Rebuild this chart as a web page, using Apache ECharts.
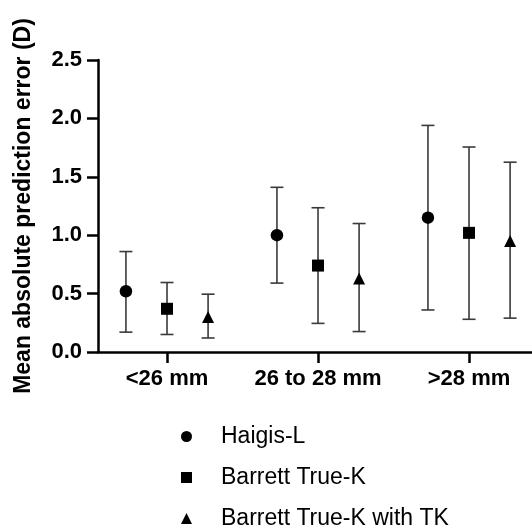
<!DOCTYPE html>
<html>
<head>
<meta charset="utf-8">
<script src="https://cdn.jsdelivr.net/npm/echarts@6/dist/echarts.min.js"></script>
<style>html,body{margin:0;padding:0;background:#fff}#c{width:532px;height:527px}</style>
</head>
<body>
<div id="c"></div>
<script>
const categories = ['<26 mm', '26 to 28 mm', '>28 mm'];
const seriesNames = ['Haigis-L', 'Barrett True-K', 'Barrett True-K with TK'];
const haigisMean = [0.52, 1.00, 1.15];
const haigisLow = [0.17, 0.59, 0.36];
const haigisHigh = [0.86, 1.41, 1.94];
const barrettMean = [0.37, 0.74, 1.02];
const barrettLow = [0.15, 0.245, 0.28];
const barrettHigh = [0.595, 1.235, 1.755];
const tkMean = [0.30, 0.63, 0.95];
const tkLow = [0.12, 0.175, 0.29];
const tkHigh = [0.495, 1.10, 1.625];
const yTicks = [0, 0.5, 1.0, 1.5, 2.0, 2.5];

const FONT = '"Liberation Sans", Arial, sans-serif';
const offsets = [-0.272, 0, 0.272];
const symbols = ['circle', 'rect', 'triangle'];
const symbolSizes = [12.5, 12, 12];
const means = [haigisMean, barrettMean, tkMean];
const lows = [haigisLow, barrettLow, tkLow];
const highs = [haigisHigh, barrettHigh, tkHigh];

const series = [];
means.forEach((m, s) => {
  series.push({
    type: 'custom',
    name: seriesNames[s] + ' SD',
    silent: true,
    z: 2,
    data: categories.map((c, i) => [i + 1 + offsets[s], lows[s][i], highs[s][i]]),
    renderItem: function (params, api) {
      const lo = api.coord([api.value(0), api.value(1)]);
      const hi = api.coord([api.value(0), api.value(2)]);
      const hw = 6.5;
      const st = { stroke: '#3a3a3a', lineWidth: 1.6 };
      return {
        type: 'group',
        children: [
          { type: 'line', shape: { x1: lo[0], y1: lo[1], x2: hi[0], y2: hi[1] }, style: st },
          { type: 'line', shape: { x1: lo[0] - hw, y1: lo[1], x2: lo[0] + hw, y2: lo[1] }, style: st },
          { type: 'line', shape: { x1: hi[0] - hw, y1: hi[1], x2: hi[0] + hw, y2: hi[1] }, style: st }
        ]
      };
    }
  });
});
means.forEach((m, s) => {
  series.push({
    type: 'scatter',
    name: seriesNames[s],
    symbol: symbols[s],
    symbolSize: symbolSizes[s],
    itemStyle: { color: '#000', opacity: 1 },
    z: 5,
    data: categories.map((c, i) => [i + 1 + offsets[s], m[i]])
  });
});

const chart = echarts.init(document.getElementById('c'), null, { renderer: 'canvas' });
chart.setOption({
  animation: false,
  backgroundColor: '#fff',
  textStyle: { fontFamily: FONT },
  grid: { left: 98, right: 0, top: 60, bottom: 175, containLabel: false },
  legend: {
    data: seriesNames,
    orient: 'vertical',
    left: 176,
    top: 420,
    height: 200,
    itemWidth: 11,
    itemHeight: 11,
    itemGap: 18,
    itemStyle: { opacity: 1 },
    textStyle: { fontFamily: FONT, fontSize: 23, color: '#000', padding: [0, 0, 0, 24] },
    selectedMode: false
  },
  xAxis: {
    type: 'value',
    min: 0.543,
    max: 3.417,
    splitLine: { show: false },
    axisLine: { show: true, onZero: false, lineStyle: { color: '#000', width: 2.5 } },
    axisTick: { show: true, length: 11, customValues: [1, 2, 3], lineStyle: { color: '#000', width: 2.5 } },
    axisLabel: {
      customValues: [1, 2, 3],
      formatter: v => categories[Math.round(v) - 1],
      fontFamily: FONT, fontSize: 22, fontWeight: 'bold', color: '#000', margin: 16
    }
  },
  yAxis: {
    type: 'value',
    min: 0,
    max: 2.5,
    interval: 0.5,
    name: 'Mean absolute prediction error (D)',
    nameLocation: 'middle',
    nameRotate: 90,
    nameGap: 63,
    nameTextStyle: { fontFamily: FONT, fontSize: 23, fontWeight: 'bold', color: '#000' },
    splitLine: { show: false },
    axisLine: { show: true, lineStyle: { color: '#000', width: 2.5 } },
    axisTick: { show: true, length: 11, lineStyle: { color: '#000', width: 2.5 } },
    axisLabel: {
      formatter: v => yTicks.includes(v) ? v.toFixed(1) : '',
      fontFamily: FONT, fontSize: 22, fontWeight: 'bold', color: '#000', margin: 16
    }
  },
  series: series
});
</script>
</body>
</html>
